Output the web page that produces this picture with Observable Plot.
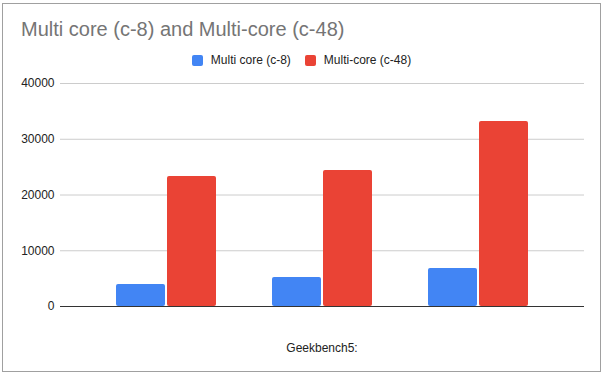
<!DOCTYPE html>
<html>
<head>
<meta charset="utf-8">
<script src="https://cdn.jsdelivr.net/npm/d3@7"></script>
<script src="https://cdn.jsdelivr.net/npm/@observablehq/plot@0.6"></script>
<style>
  html, body { margin: 0; padding: 0; background: #fff; }
  #wrap { position: relative; width: 603px; height: 374px; font-family: "Liberation Sans", Arial, sans-serif; overflow: hidden; }
  #frame { position: absolute; left: 2px; top: 3px; width: 599px; height: 369px; border: 1px solid #a0a0a0; box-sizing: border-box; }
  #title { position: absolute; left: 21px; top: 18px; font-size: 20px; line-height: 23px; color: #757575; white-space: nowrap; }
  #legend { position: absolute; top: 53px; left: 0; width: 603px; display: flex; justify-content: center; font-size: 12px; color: #222; }
  .item { display: flex; align-items: center; margin: 0 7px; }
  .sw { width: 11px; height: 11px; border-radius: 2px; margin-right: 8px; }
  #xlabel { position: absolute; top: 341px; left: 60px; width: 524px; text-align: center; font-size: 12px; color: #222; }
  .layer { position: absolute; left: 0; top: 0; }
</style>
</head>
<body>
<div id="wrap">
  <div id="frame"></div>
  <div id="base" class="layer"></div>
  <div id="bars" class="layer"></div>
  <div id="top" class="layer"></div>
  <div id="title"></div>
  <div id="legend"></div>
  <div id="xlabel"></div>
</div>
<script>
const title = "Multi core (c-8) and Multi-core (c-48)";
const xTitle = "Geekbench5:";
const categories = ["Run 1", "Run 2", "Run 3"];
const seriesNames = ["Multi core (c-8)", "Multi-core (c-48)"];
const seriesColors = ["#4285F4", "#EA4335"];
const c8Values = [3950, 5200, 6800];
const c48Values = [23300, 24400, 33200];
const yTicks = [0, 10000, 20000, 30000, 40000];

const data = [];
categories.forEach((c, i) => {
  data.push({group: c, series: seriesNames[0], value: c8Values[i]});
  data.push({group: c, series: seriesNames[1], value: c48Values[i]});
});

document.getElementById("title").textContent = title;
document.getElementById("xlabel").textContent = xTitle;
const legend = document.getElementById("legend");
seriesNames.forEach((s, i) => {
  const it = document.createElement("div");
  it.className = "item";
  const sw = document.createElement("div");
  sw.className = "sw";
  sw.style.background = seriesColors[i];
  const t = document.createElement("span");
  t.textContent = s;
  it.appendChild(sw); it.appendChild(t);
  legend.appendChild(it);
});

const common = {
  width: 603,
  height: 374,
  marginLeft: 60,
  marginRight: 19,
  marginTop: 83,
  marginBottom: 68,
  style: { fontFamily: "'Liberation Sans', Arial, sans-serif", fontSize: "12px", color: "#222", background: "transparent" }
};
const yScale = { domain: [0, 40000], ticks: yTicks, tickFormat: d3.format("d"), tickSize: 0, tickPadding: 6, label: null };

// Base layer: y axis and gridlines
const base = Plot.plot({
  ...common,
  x: { domain: categories, axis: null },
  y: yScale,
  marks: [
    Plot.ruleY(yTicks.filter(d => d > 0), { stroke: "#cccccc", strokeWidth: 1 })
  ]
});
document.getElementById("base").appendChild(base);

// Bar layer: grouped bars via facets, sharing the same y scale
const bars = Plot.plot({
  ...common,
  fx: { domain: categories, paddingInner: 0.36, paddingOuter: 0.35, axis: null, label: null },
  x: { domain: seriesNames, paddingInner: 0.04, paddingOuter: 0, axis: null },
  y: { ...yScale, axis: null },
  color: { domain: seriesNames, range: seriesColors },
  marks: [
    Plot.barY(data, { fx: "group", x: "series", y: "value", fill: "series", rx: 2 })
  ]
});
document.getElementById("bars").appendChild(bars);

// Baseline on top
const baseline = Plot.plot({
  ...common,
  x: { domain: categories, axis: null },
  y: { ...yScale, axis: null },
  marks: [ Plot.ruleY([0], { stroke: "#333333", strokeWidth: 1 }) ]
});
document.getElementById("top").appendChild(baseline);
</script>
</body>
</html>
